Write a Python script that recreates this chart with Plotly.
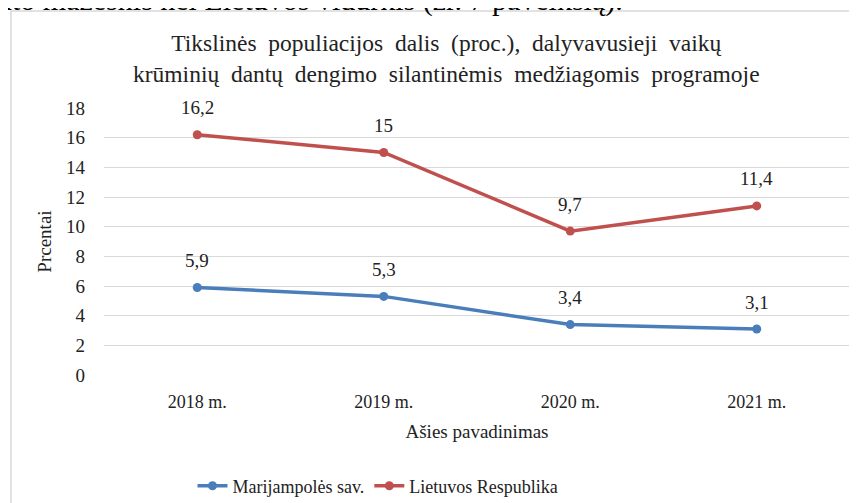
import plotly.graph_objects as go

categories = ["2018 m.", "2019 m.", "2020 m.", "2021 m."]
marijampole = [5.9, 5.3, 3.4, 3.1]
lietuva = [16.2, 15, 9.7, 11.4]
marijampole_labels = ["5,9", "5,3", "3,4", "3,1"]
lietuva_labels = ["16,2", "15", "9,7", "11,4"]
y_ticks = [0, 2, 4, 6, 8, 10, 12, 14, 16, 18]

FONT = "Liberation Serif, Times New Roman, serif"
OFF = 8  # page body margin
W, H = 857 - OFF, 503 - OFF
# desired plot area in screenshot pixels: x 104..850, y 108..375
L, T = 104 - OFF, 108 - OFF
R = W - (850 - OFF)
B = H - (375 - OFF)
pw, ph = W - L - R, H - T - B

def px(x):
    return (x - OFF - L) / pw

def py(y):
    return (H - B - (y - OFF)) / ph

BLUE = "#4A7EBB"
RED = "#C0504D"

fig = go.Figure()
fig.add_trace(go.Scatter(
    x=categories, y=marijampole, mode="lines+markers",
    name="Marijampolės sav.",
    line=dict(color=BLUE, width=3.5), marker=dict(size=9, color=BLUE),
    cliponaxis=False,
))
fig.add_trace(go.Scatter(
    x=categories, y=lietuva, mode="lines+markers",
    name="Lietuvos Respublika",
    line=dict(color=RED, width=3.5), marker=dict(size=9, color=RED),
    cliponaxis=False,
))

for xs, ys, labels in [(categories, marijampole, marijampole_labels),
                       (categories, lietuva, lietuva_labels)]:
    for xv, yv, lab in zip(xs, ys, labels):
        fig.add_annotation(x=xv, y=yv, xref="x", yref="y", text=lab, showarrow=False,
                           yshift=27, font=dict(family=FONT, size=19, color="#222"))

fig.update_layout(
    width=W, height=H,
    margin=dict(l=L, r=R, t=T, b=B, autoexpand=False),
    paper_bgcolor="white", plot_bgcolor="white",
    font=dict(family=FONT, size=18, color="#222"),
    showlegend=True,
    legend=dict(orientation="h", x=px(378), xanchor="center", y=py(486), yanchor="middle",
                font=dict(family=FONT, size=18, color="#222"), itemwidth=30, tracegroupgap=0),
    xaxis=dict(showgrid=False, zeroline=False, showline=False, ticks="", range=[-0.5, 3.5],
               automargin=False, ticklabelstandoff=14,
               tickfont=dict(family=FONT, size=18, color="#222"),
               title=dict(text="Ašies pavadinimas", font=dict(family=FONT, size=19, color="#222"), standoff=13)),
    yaxis=dict(range=[0, 18], tickvals=y_ticks, showgrid=True, gridcolor="#d9d9d9", gridwidth=1,
               zeroline=False, showline=False, ticks="", ticklabelstandoff=18, automargin=False,
               tickfont=dict(family=FONT, size=19, color="#222"),
               title=dict(text="Prcentai", font=dict(family=FONT, size=19, color="#222"), standoff=9)),
)

fig.add_annotation(
    text="Tikslinės  populiacijos  dalis  (proc.),  dalyvavusieji  vaikų<br>krūminių  dantų  dengimo  silantinėmis  medžiagomis  programoje",
    xref="paper", yref="paper", x=px(446), y=py(58), xanchor="center", yanchor="middle",
    showarrow=False, font=dict(family=FONT, size=23.5, color="#222"),
)
fig.add_annotation(
    text="nto mažesnis nei Lietuvos vidurkis (žr. 7 paveikslą).",
    xref="paper", yref="paper", x=px(-5), y=py(0), xanchor="left", yanchor="middle",
    showarrow=False, font=dict(family=FONT, size=30, color="#000"),
)
fig.add_shape(type="rect", xref="paper", yref="paper",
              x0=px(11), x1=px(W + 40), y0=py(H + 40), y1=py(11),
              line=dict(color="#d9d9d9", width=1.5), fillcolor="rgba(0,0,0,0)", layer="below")

fig.write_html("out.html")
